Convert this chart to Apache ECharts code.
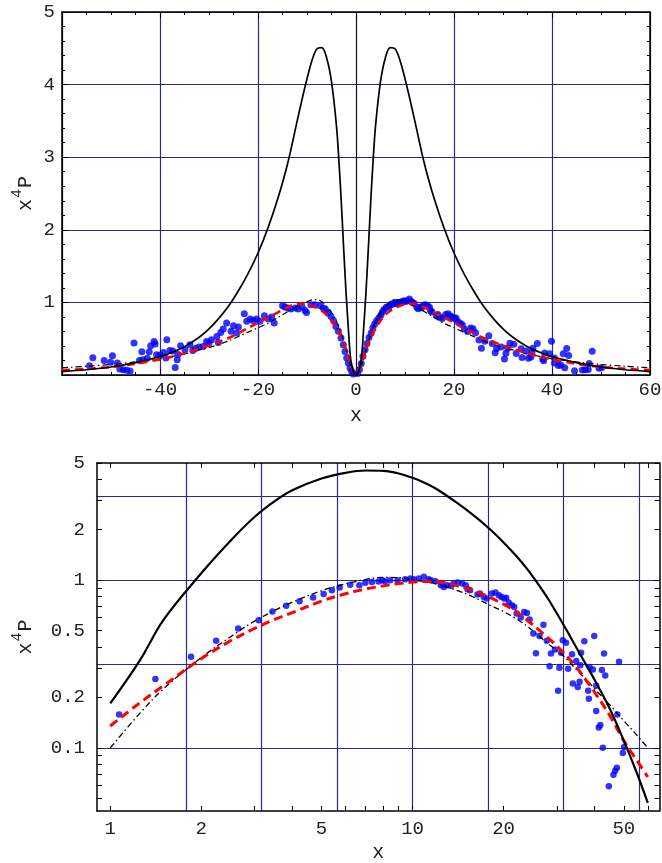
<!DOCTYPE html>
<html><head><meta charset="utf-8">
<script src="https://cdn.jsdelivr.net/npm/echarts@6/dist/echarts.min.js"></script>
<style>html,body{margin:0;padding:0;background:#fff}#c{width:662px;height:863px}</style>
</head><body><div id="c"></div>
<script>
// ---------- scatter data (blue dots) ----------
const negScatterX = [-54.4,-53.7,-51.4,-50.1,-49.7,-48.7,-48.2,-47.5,-46.8,-46.1,-45.3,-44.2,-43.7,-43.5,-42.6,-42.2,-41.9,-41.2,-41.0,-40.7,-40.0,-39.3,-38.6,-38.8,-38.0,-37.4,-36.9,-36.5,-36.3,-35.8,-34.9,-33.9,-33.3,-32.7,-32.0,-31.2,-30.5,-30.0,-29.5,-28.4,-28.1,-27.6,-27.1,-26.4,-25.5,-25.0,-24.3,-24.0,-22.8,-22.3,-21.6,-21.0,-20.3,-19.6,-18.7,-17.9,-17.2,-16.7,-15.0,-14.5,-13.9,-13.3,-12.4,-11.8,-11.0,-10.4,-10.1,-9.2,-8.4,-7.3,-6.7,-6.2,-5.7,-5.1,-4.6,-4.1,-3.6,-3.06,-2.59,-2.24,-1.9,-1.56,-1.22,-0.88,-0.54];
const negScatterY = [0.128,0.238,0.201,0.174,0.266,0.165,0.083,0.073,0.065,0.055,0.44,0.201,0.321,0.211,0.229,0.321,0.404,0.463,0.427,0.28,0.275,0.311,0.486,0.234,0.339,0.33,0.105,0.211,0.284,0.404,0.349,0.417,0.339,0.367,0.385,0.394,0.463,0.44,0.486,0.532,0.449,0.587,0.634,0.716,0.601,0.679,0.579,0.661,0.845,0.739,0.771,0.752,0.771,0.739,0.817,0.771,0.799,0.716,0.955,0.936,0.923,0.909,0.923,0.909,0.936,0.89,0.862,0.968,0.968,0.955,0.923,0.9,0.854,0.807,0.752,0.669,0.601,0.51,0.417,0.325,0.234,0.165,0.096,0.05,0.015];
const posScatterX = [0.32,0.7,1.07,1.41,1.85,2.24,2.65,3.10,3.44,3.82,4.23,4.69,5.08,5.41,5.74,6.22,6.67,6.98,7.34,7.72,7.93,8.11,8.43,8.92,9.45,9.83,10.1,10.5,10.9,11.3,11.5,11.9,12.4,12.7,13.0,13.4,13.7,14.1,14.6,15.0,15.2,15.5,16.4,16.7,17.2,17.6,18.3,18.8,19.3,19.7,20.1,20.4,20.8,21.3,21.7,22.1,22.8,23.4,23.9,24.4,25.1,25.6,26.3,27.1,27.8,28.4,28.7,29.6,30.3,30.6,31.0,31.4,32.2,32.7,33.7,33.9,34.8,35.2,35.7,35.9,36.1,37.0,38.1,38.3,38.5,39.5,39.9,40.5,40.5,41.3,41.8,42.3,42.6,43.0,43.4,44.6,46.2,46.8,47.4,47.6,48.2,49.6,50.1];
const posScatterY = [0.02,0.075,0.158,0.257,0.349,0.435,0.515,0.577,0.651,0.703,0.75,0.788,0.828,0.871,0.904,0.938,0.933,0.964,0.977,0.982,1.0,0.986,1.0,1.0,1.014,1.023,1.014,1.023,1.047,1.014,1.0,0.986,0.934,0.912,0.934,0.925,0.955,0.968,0.955,0.934,0.884,0.872,0.822,0.833,0.795,0.778,0.833,0.845,0.814,0.795,0.778,0.786,0.736,0.709,0.693,0.633,0.598,0.647,0.638,0.582,0.481,0.367,0.464,0.542,0.435,0.307,0.365,0.386,0.219,0.300,0.369,0.439,0.423,0.296,0.362,0.242,0.330,0.231,0.248,0.311,0.369,0.433,0.219,0.196,0.304,0.293,0.464,0.235,0.166,0.132,0.137,0.291,0.100,0.365,0.270,0.059,0.069,0.073,0.076,0.158,0.326,0.093,0.101];

// ---------- model curves ----------
const curveXPos   = [0,0.5,1,1.25,1.5,2,2.5,3,3.5,4,5,6,7,8,9,10,11,12,14,16,18,20,22,24,26,28,30,32,35,38,40,45,50,55,60];
const blackYPos   = [0,0.04,0.184,0.33,0.58,1.1,1.72,2.38,2.96,3.44,4.04,4.37,4.51,4.49,4.33,4.08,3.8,3.5,2.9,2.42,2.02,1.68,1.4,1.16,0.95,0.78,0.635,0.52,0.39,0.30,0.255,0.17,0.11,0.072,0.047];
const redYPos     = [0,0.035,0.135,0.185,0.235,0.34,0.435,0.515,0.583,0.64,0.75,0.83,0.885,0.925,0.955,0.975,0.983,0.982,0.93,0.86,0.79,0.72,0.65,0.575,0.51,0.455,0.405,0.36,0.30,0.245,0.215,0.155,0.11,0.085,0.067];
const dashDotYPos = [0,0.025,0.10,0.16,0.225,0.345,0.46,0.57,0.66,0.74,0.865,0.95,1.01,1.04,1.035,1.01,0.98,0.95,0.87,0.79,0.71,0.65,0.59,0.53,0.47,0.42,0.38,0.345,0.29,0.25,0.225,0.18,0.145,0.12,0.10];
const curveXNeg   = [-60,-55,-50,-45,-40,-38,-35,-32,-30,-28,-26,-24,-22,-20,-18,-16,-14,-12,-11,-10,-9,-8,-7,-6,-5,-4,-3.5,-3,-2.5,-2,-1.5,-1.25,-1,-0.5];
const blackYNeg   = [0.047,0.072,0.11,0.17,0.255,0.30,0.39,0.52,0.635,0.78,0.95,1.16,1.4,1.68,2.02,2.42,2.9,3.5,3.8,4.08,4.33,4.49,4.51,4.37,4.04,3.44,2.96,2.38,1.72,1.1,0.58,0.33,0.184,0.04];
const redYNeg     = [0.067,0.085,0.11,0.155,0.215,0.245,0.30,0.36,0.405,0.455,0.51,0.575,0.65,0.72,0.79,0.86,0.93,0.982,0.983,0.975,0.955,0.925,0.885,0.83,0.75,0.64,0.583,0.515,0.435,0.34,0.235,0.185,0.135,0.035];
const dashDotYNeg = [0.10,0.12,0.145,0.18,0.225,0.25,0.29,0.345,0.38,0.42,0.47,0.53,0.59,0.65,0.71,0.79,0.87,0.95,0.98,1.01,1.035,1.04,1.01,0.95,0.865,0.74,0.66,0.57,0.46,0.345,0.225,0.16,0.10,0.025];

// ---------- tick / grid values ----------
const logXLabels = [1,2,5,10,20,50];
const logXTicks  = [1,2,3,4,5,6,7,8,9,10,20,30,40,50,60];
const logXGrid   = [1.778,3.162,5.623,10,17.78,31.62,56.23];
const logYLabels = [0.1,0.2,0.5,1,2,5];
const logYTicks  = [0.05,0.06,0.07,0.08,0.09,0.1,0.2,0.3,0.4,0.5,0.6,0.7,0.8,0.9,1,2,3,4,5];
const logYGrid   = [0.1,0.3162,1,3.162];

const zip = (xs, ys) => xs.map((x, i) => [x, ys[i]]);
const FONT = 'Liberation Mono';
const NAVY = '#2a2a8c';
const TXT = '#222';
const lbl = {fontFamily: FONT, fontSize: 19, color: TXT};
const frame = {show: true, onZero: false, lineStyle: {color: '#000', width: 1.5}};
const tick = (len) => ({show: true, inside: true, length: len, lineStyle: {color: '#000', width: 1}});
const yName = '{a|x}{s|4}{a|P}';
const yNameStyle = {rich: {
  a: {fontFamily: FONT, fontSize: 20, color: TXT, verticalAlign: 'bottom'},
  s: {fontFamily: FONT, fontSize: 15, color: TXT, verticalAlign: 'top', padding: [0, 1, 11, 1]}
}};

const topBlack = zip(curveXNeg, blackYNeg).concat(zip(curveXPos, blackYPos));
const topRed = zip(curveXNeg, redYNeg).concat(zip(curveXPos, redYPos));
const topDD = zip(curveXNeg, dashDotYNeg).concat(zip(curveXPos, dashDotYPos));
const topDots = zip(negScatterX, negScatterY).concat(zip(posScatterX, posScatterY));
const logOnly = (pts) => pts.filter(p => p[0] >= 1);
const botBlack = logOnly(zip(curveXPos, blackYPos));
const botRed = logOnly(zip(curveXPos, redYPos));
const botDD = logOnly(zip(curveXPos, dashDotYPos));
const botDots = zip(posScatterX, posScatterY);

const logFmt = v => String(+Number(v).toPrecision(3));
const XL = {min: 0.904, max: 65.6};
const YL = {min: 0.042, max: 5};

const chart = echarts.init(document.getElementById('c'), null, {renderer: 'canvas'});
chart.setOption({
  animation: false,
  backgroundColor: '#fff',
  grid: [
    {left: 62, top: 12, width: 588, height: 363, outerBoundsMode: 'none', containLabel: false},
    {left: 97, top: 463, width: 562.5, height: 348, outerBoundsMode: 'none', containLabel: false}
  ],
  xAxis: [
    {gridIndex: 0, type: 'value', min: -60, max: 60, interval: 20, position: 'bottom',
     axisLine: frame, axisTick: tick(6), minorTick: {show: true, splitNumber: 4, length: 3, lineStyle: {color: '#000'}},
     axisLabel: Object.assign({}, lbl, {margin: 5, formatter: v => v === -60 ? '' : String(v)}),
     splitLine: {show: true, lineStyle: {color: ['#000', NAVY, NAVY, '#111', NAVY, NAVY, '#000'], width: 1.2}},
     name: 'x', nameLocation: 'middle', nameGap: 31, nameMoveOverlap: false, nameTextStyle: {fontFamily: FONT, fontSize: 20, color: TXT}},
    {gridIndex: 0, type: 'value', min: -60, max: 60, interval: 20, position: 'top',
     axisLine: frame, axisTick: tick(6), minorTick: {show: true, splitNumber: 4, length: 3, lineStyle: {color: '#000'}},
     axisLabel: {show: false}, splitLine: {show: false}},
    {gridIndex: 1, type: 'log', min: XL.min, max: XL.max, position: 'bottom',
     axisLine: frame, axisTick: Object.assign(tick(5), {customValues: logXTicks}),
     axisLabel: Object.assign({}, lbl, {margin: 8, customValues: logXLabels, formatter: logFmt}),
     splitLine: {show: false}, minorTick: {show: false},
     name: 'x', nameLocation: 'middle', nameGap: 32, nameMoveOverlap: false, nameTextStyle: {fontFamily: FONT, fontSize: 20, color: TXT}},
    {gridIndex: 1, type: 'log', min: XL.min, max: XL.max, position: 'top',
     axisLine: frame, axisTick: Object.assign(tick(5), {customValues: logXTicks}),
     axisLabel: {show: false}, splitLine: {show: false}},
    {gridIndex: 1, type: 'log', min: XL.min, max: XL.max, position: 'bottom',
     axisLine: {show: false}, axisTick: {show: false, customValues: logXGrid}, axisLabel: {show: false},
     splitLine: {show: true, lineStyle: {color: NAVY, width: 1.2}}}
  ],
  yAxis: [
    {gridIndex: 0, type: 'value', min: 0, max: 5, interval: 1, position: 'left',
     axisLine: frame, axisTick: tick(6), minorTick: {show: true, splitNumber: 5, length: 3, lineStyle: {color: '#000'}},
     axisLabel: Object.assign({}, lbl, {margin: 7, formatter: v => v === 0 ? '' : String(v)}),
     splitLine: {show: true, lineStyle: {color: NAVY, width: 1.2}},
     name: yName, nameLocation: 'middle', nameRotate: 90, nameGap: 26, nameMoveOverlap: false, nameTextStyle: yNameStyle},
    {gridIndex: 0, type: 'value', min: 0, max: 5, interval: 1, position: 'right',
     axisLine: frame, axisTick: tick(6), minorTick: {show: true, splitNumber: 5, length: 3, lineStyle: {color: '#000'}},
     axisLabel: {show: false}, splitLine: {show: false}},
    {gridIndex: 1, type: 'log', min: YL.min, max: YL.max, position: 'left',
     axisLine: frame, axisTick: Object.assign(tick(5), {customValues: logYTicks}),
     axisLabel: Object.assign({}, lbl, {margin: 12, customValues: logYLabels, formatter: logFmt}),
     splitLine: {show: false}, minorTick: {show: false},
     name: yName, nameLocation: 'middle', nameRotate: 90, nameGap: 61, nameMoveOverlap: false, nameTextStyle: yNameStyle},
    {gridIndex: 1, type: 'log', min: YL.min, max: YL.max, position: 'right',
     axisLine: frame, axisTick: Object.assign(tick(5), {customValues: logYTicks}),
     axisLabel: {show: false}, splitLine: {show: false}},
    {gridIndex: 1, type: 'log', min: YL.min, max: YL.max, position: 'left',
     axisLine: {show: false}, axisTick: {show: false, customValues: logYGrid}, axisLabel: {show: false},
     splitLine: {show: true, lineStyle: {color: NAVY, width: 1.2}}}
  ],
  series: [
    {type: 'scatter', xAxisIndex: 0, yAxisIndex: 0, data: topDots, symbolSize: 7, itemStyle: {color: '#0000ff'}, z: 2},
    {type: 'line', xAxisIndex: 0, yAxisIndex: 0, data: topDD, showSymbol: false, smooth: 0.3, lineStyle: {color: '#000', width: 1.2, type: [6, 3, 1.5, 3]}, z: 3},
    {type: 'line', xAxisIndex: 0, yAxisIndex: 0, data: topRed, showSymbol: false, smooth: 0.3, lineStyle: {color: '#ff0000', width: 2.6, type: [8, 5]}, z: 4},
    {type: 'line', xAxisIndex: 0, yAxisIndex: 0, data: topBlack, showSymbol: false, smooth: 0.35, lineStyle: {color: '#000', width: 1.7}, z: 5},
    {type: 'scatter', xAxisIndex: 2, yAxisIndex: 2, data: botDots, symbolSize: 6.5, itemStyle: {color: '#0000ff'}, z: 2, clip: true},
    {type: 'line', xAxisIndex: 2, yAxisIndex: 2, data: botDD, showSymbol: false, smooth: 0.35, clip: true, lineStyle: {color: '#000', width: 1.3, type: [6, 3, 1.5, 3]}, z: 3},
    {type: 'line', xAxisIndex: 2, yAxisIndex: 2, data: botRed, showSymbol: false, smooth: 0.35, clip: true, lineStyle: {color: '#ff0000', width: 3, type: [9, 5]}, z: 4},
    {type: 'line', xAxisIndex: 2, yAxisIndex: 2, data: botBlack, showSymbol: false, smooth: 0.35, clip: true, lineStyle: {color: '#000', width: 2.2}, z: 5}
  ]
});
</script></body></html>
